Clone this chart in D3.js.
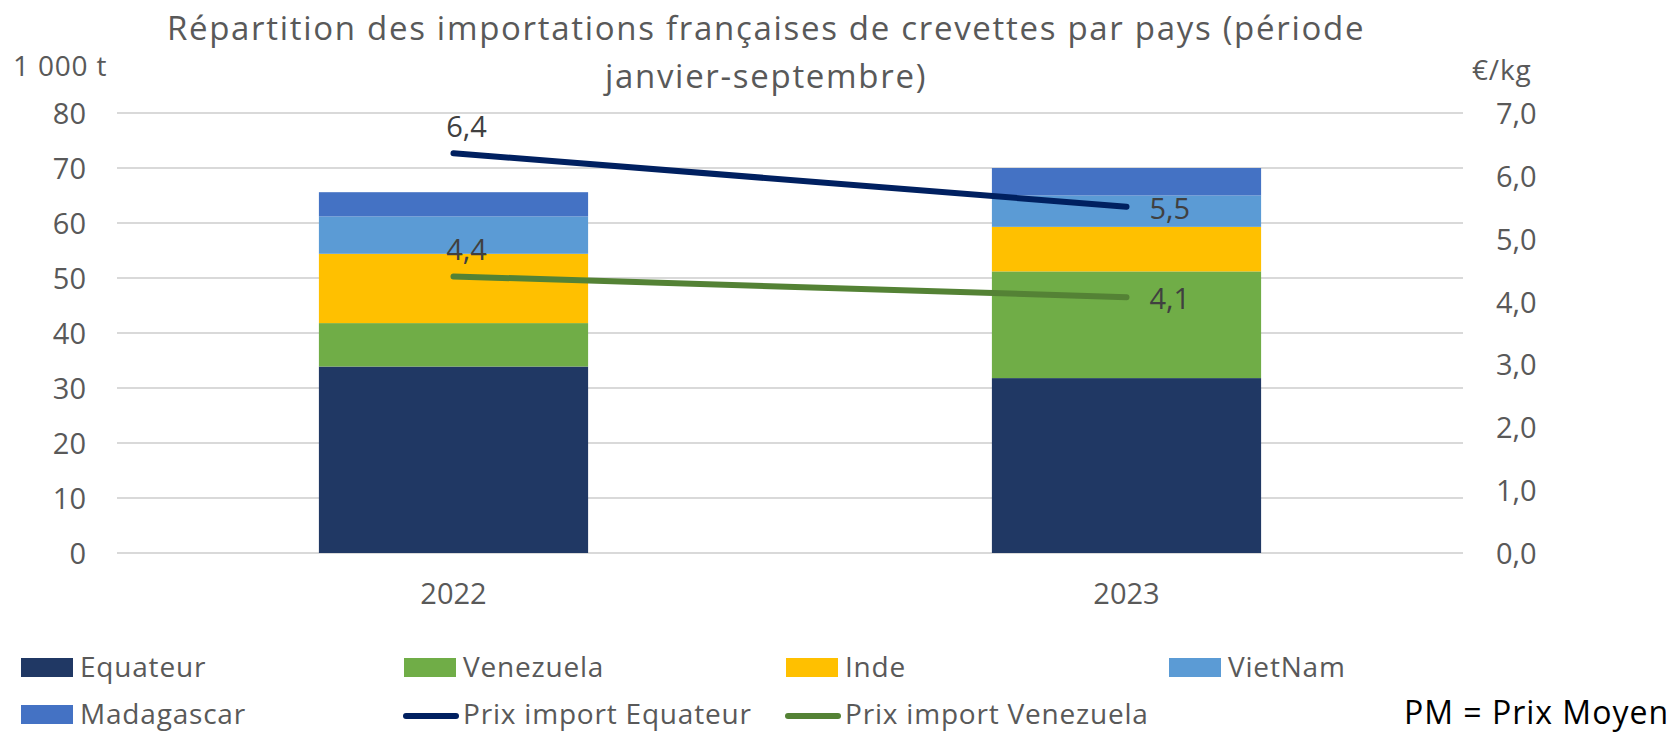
<!DOCTYPE html>
<html>
<head>
<meta charset="utf-8">
<script src="https://cdn.jsdelivr.net/npm/d3@7"></script>
<style>
  body { margin: 0; background: #fff; }
  text { font-family: "Open Sans", sans-serif; }
</style>
</head>
<body>
<script>
// data
var years = ["2022", "2023"];
var countries = ["Equateur", "Venezuela", "Inde", "VietNam", "Madagascar"];
var equateur = [33.9, 31.8];
var venezuela = [7.9, 19.4];
var inde = [12.6, 8.1];
var vietnam = [6.8, 5.7];
var madagascar = [4.4, 5.0];
var prixEquateur = [6.36, 5.51];
var prixVenezuela = [4.40, 4.07];
var leftTicks = [0, 10, 20, 30, 40, 50, 60, 70, 80];
var rightTicks = [0, 1, 2, 3, 4, 5, 6, 7];

function init() {
    var w = 1675;
    var h = 732;
    var left = 117, right = 1463, top = 113, bottom = 553;

    var colors = ["#203864", "#70AD47", "#FFC000", "#5B9BD5", "#4472C4"];
    var lineColors = ["#002060", "#548235"];

    var svg = d3.select("body").append("svg").attr("width", w).attr("height", h);

    var x = d3.scaleBand().domain(years).range([left, right]).paddingInner(0.6).paddingOuter(0.3);
    var y = d3.scaleLinear().domain([0, 80]).range([bottom, top]);
    var y2 = d3.scaleLinear().domain([0, 7]).range([bottom, top]);

    // gridlines
    svg.append("g").selectAll("line")
        .data(leftTicks)
        .enter()
        .append("line")
        .attr("x1", left).attr("x2", right)
        .attr("y1", function (d) { return y(d); })
        .attr("y2", function (d) { return y(d); })
        .attr("stroke", "#d9d9d9")
        .attr("stroke-width", 2);

    // left axis
    var yAxis = d3.axisLeft(y).tickValues(leftTicks).tickSize(0).tickPadding(0);
    var gl = svg.append("g").attr("transform", "translate(86,0)").call(yAxis);
    gl.select(".domain").remove();
    gl.selectAll("text").style("font-size", "29px").attr("fill", "#595959").attr("dy", "0.36em");

    // right axis
    var fmt = function (d) { return d3.format(".1f")(d).replace(".", ","); };
    var yAxis2 = d3.axisRight(y2).tickValues(rightTicks).tickSize(0).tickPadding(0).tickFormat(fmt);
    var gr = svg.append("g").attr("transform", "translate(1496,0)").call(yAxis2);
    gr.select(".domain").remove();
    gr.selectAll("text").style("font-size", "29px").attr("fill", "#595959").attr("dy", "0.36em");

    // x axis
    var xAxis = d3.axisBottom(x).tickSize(0).tickPadding(0);
    var gx = svg.append("g").attr("transform", "translate(0,583)").call(xAxis);
    gx.select(".domain").remove();
    gx.selectAll("text").style("font-size", "29px").attr("fill", "#595959").attr("dy", "0.71em");

    // stacked bars
    var table = years.map(function (yr, i) {
        return { year: yr, Equateur: equateur[i], Venezuela: venezuela[i], Inde: inde[i], VietNam: vietnam[i], Madagascar: madagascar[i] };
    });
    var stack = d3.stack().keys(countries)(table);

    svg.append("g").selectAll("g")
        .data(stack)
        .enter()
        .append("g")
        .attr("fill", function (d, i) { return colors[i]; })
        .selectAll("rect")
        .data(function (d) { return d; })
        .enter()
        .append("rect")
        .attr("x", function (d) { return x(d.data.year); })
        .attr("width", x.bandwidth())
        .attr("y", function (d) { return y(d[1]); })
        .attr("height", function (d) { return y(d[0]) - y(d[1]); });

    // price lines
    var prices = [prixEquateur, prixVenezuela];
    var line = d3.line()
        .x(function (d, i) { return x(years[i]) + x.bandwidth() / 2; })
        .y(function (d) { return y2(d); });

    svg.append("g").selectAll("path")
        .data(prices)
        .enter()
        .append("path")
        .attr("d", line)
        .attr("fill", "none")
        .attr("stroke", function (d, i) { return lineColors[i]; })
        .attr("stroke-width", 6)
        .attr("stroke-linecap", "round");

    // data labels: first point above, second point on the right
    prices.forEach(function (p) {
        p.forEach(function (v, i) {
            var cx = x(years[i]) + x.bandwidth() / 2;
            svg.append("text")
                .attr("x", i == 0 ? cx + 13 : cx + 23)
                .attr("y", i == 0 ? y2(v) - 16 : y2(v) + 12)
                .attr("text-anchor", i == 0 ? "middle" : "start")
                .style("font-size", "29px")
                .attr("fill", "#404040")
                .text(fmt(v));
        });
    });

    // titles
    var title = svg.append("text")
        .attr("text-anchor", "middle")
        .style("font-size", "33px")
        .style("letter-spacing", "1.7px")
        .attr("fill", "#595959");
    title.append("tspan").attr("x", 766).attr("y", 40).text("Répartition des importations françaises de crevettes par pays (période");
    title.append("tspan").attr("x", 766).attr("y", 88).text("janvier-septembre)");

    svg.append("text").attr("x", 13).attr("y", 76)
        .style("font-size", "28px").style("letter-spacing", "0.8px").attr("fill", "#595959").text("1 000 t");
    svg.append("text").attr("x", 1472).attr("y", 80)
        .style("font-size", "28px").style("letter-spacing", "0.8px").attr("fill", "#595959").text("€/kg");

    // legend
    var legendItems = countries.map(function (c, i) { return { name: c, type: "rect", color: colors[i] }; })
        .concat([
            { name: "Prix import Equateur", type: "line", color: lineColors[0] },
            { name: "Prix import Venezuela", type: "line", color: lineColors[1] }
        ]);
    var colX = [21, 404, 786, 1169];
    var rowY = [677, 724];

    var leg = svg.append("g").selectAll("g")
        .data(legendItems)
        .enter()
        .append("g")
        .attr("transform", function (d, i) { return "translate(" + colX[i % 4] + "," + rowY[Math.floor(i / 4)] + ")"; });

    leg.filter(function (d) { return d.type == "rect"; })
        .append("rect")
        .attr("x", 0).attr("y", -19).attr("width", 52).attr("height", 19)
        .attr("fill", function (d) { return d.color; });
    leg.filter(function (d) { return d.type == "line"; })
        .append("line")
        .attr("x1", 2).attr("x2", 52).attr("y1", -8).attr("y2", -8)
        .attr("stroke", function (d) { return d.color; })
        .attr("stroke-width", 6)
        .attr("stroke-linecap", "round");
    leg.append("text")
        .attr("x", 59)
        .style("font-size", "28px")
        .style("letter-spacing", "0.8px")
        .attr("fill", "#595959")
        .text(function (d) { return d.name; });

    svg.append("text")
        .attr("x", 1669).attr("y", 724)
        .attr("text-anchor", "end")
        .style("font-size", "32px")
        .style("letter-spacing", "1px")
        .attr("fill", "#000")
        .text("PM = Prix Moyen");
}

window.onload = init;
</script>
</body>
</html>
